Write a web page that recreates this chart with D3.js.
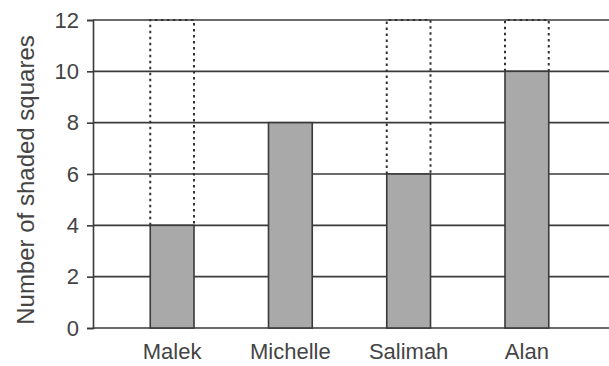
<!DOCTYPE html>
<html>
<head>
<meta charset="utf-8">
<script src="https://cdn.jsdelivr.net/npm/d3@7"></script>
<style>
  html, body { margin: 0; padding: 0; background: #fff; }
  svg { display: block; }
  text { font-family: "Liberation Sans", Arial, sans-serif; fill: #444; }
</style>
</head>
<body>
<svg id="chart" width="609" height="366"></svg>
<script>
// Shaded squares counted per pupil
const names = ["Malek", "Michelle", "Salimah", "Alan"];
const shaded = [4, 8, 6, 10];
// Bars outlined with a dotted frame up to the full grid height
const dottedFrame = [true, false, true, true];
const yTicks = [0, 2, 4, 6, 8, 10, 12];
const yMax = 12;

const svg = d3.select("#chart");
const W = 609;
const plotLeft = 93, plotTop = 20, plotBottom = 328;

const y = d3.scaleLinear().domain([0, yMax]).range([plotBottom, plotTop]);
const x = d3.scaleBand().domain(names).range([113, 586]).paddingInner(0.63).paddingOuter(0.315);

// Horizontal grid lines running across to the right edge
svg.append("g").selectAll("line").data(yTicks).join("line")
  .attr("x1", plotLeft).attr("x2", W)
  .attr("y1", d => y(d)).attr("y2", d => y(d))
  .attr("stroke", "#3a3a3a").attr("stroke-width", 1.6);

// Left axis with ticks and labels
const axis = svg.append("g")
  .attr("transform", `translate(${plotLeft},0)`)
  .call(d3.axisLeft(y).tickValues(yTicks).tickSize(6).tickPadding(8));
axis.select(".domain").attr("stroke", "#3a3a3a").attr("stroke-width", 1.6);
axis.selectAll(".tick line").attr("stroke", "#3a3a3a").attr("stroke-width", 1.6);
axis.selectAll(".tick text")
  .attr("font-size", 22).attr("fill", "#444")
  .attr("font-family", "Liberation Sans, Arial, sans-serif");

const rows = names.map((n, i) => ({ name: n, value: shaded[i], dotted: dottedFrame[i] }));

// Dotted frames reaching the top of the grid
const frames = svg.append("g").selectAll("g").data(rows.filter(d => d.dotted)).join("g");
frames.append("path")
  .attr("d", d => {
    const x0 = x(d.name), x1 = x(d.name) + x.bandwidth();
    return `M${x0},${y(d.value)}V${y(yMax)}H${x1}V${y(d.value)}`;
  })
  .attr("fill", "none")
  .attr("stroke", "#333")
  .attr("stroke-width", 2)
  .attr("stroke-dasharray", "2.5,3.5");

// Shaded bars
svg.append("g").selectAll("rect").data(rows).join("rect")
  .attr("x", d => x(d.name))
  .attr("y", d => y(d.value))
  .attr("width", x.bandwidth())
  .attr("height", d => y(0) - y(d.value))
  .attr("fill", "#a9a9a9")
  .attr("stroke", "#3a3a3a")
  .attr("stroke-width", 1.6);

// Category labels
svg.append("g").selectAll("text").data(rows).join("text")
  .attr("x", d => x(d.name) + x.bandwidth() / 2)
  .attr("y", 359)
  .attr("text-anchor", "middle")
  .attr("font-size", 22)
  .text(d => d.name);

// Axis title
svg.append("text")
  .attr("transform", `translate(34,180) rotate(-90)`)
  .attr("text-anchor", "middle")
  .attr("font-size", 24)
  .text("Number of shaded squares");
</script>
</body>
</html>
